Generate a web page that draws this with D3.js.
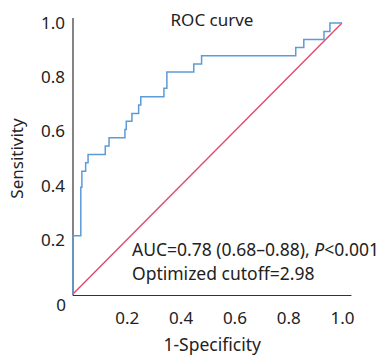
<!DOCTYPE html>
<html>
<head>
<meta charset="utf-8">
<script src="https://cdnjs.cloudflare.com/ajax/libs/d3/7.8.5/d3.min.js"></script>
<style>
  body { margin: 0; background: #fff; }
  svg text { font-family: "Noto Sans", sans-serif; fill: #222; }
</style>
</head>
<body>
<div id="chart"></div>
<script>
// ROC curve points (1-specificity, sensitivity)
const fpr = [0, 0, 0.029, 0.029, 0.033, 0.033, 0.047, 0.047, 0.056, 0.056, 0.120, 0.120, 0.134, 0.134,
  0.193, 0.193, 0.198, 0.198, 0.219, 0.219, 0.244, 0.244, 0.252, 0.252, 0.338, 0.338, 0.349, 0.349,
  0.449, 0.449, 0.478, 0.478, 0.828, 0.828, 0.858, 0.858, 0.933, 0.933, 0.955, 0.955, 1.0];
const tpr = [0, 0.215, 0.215, 0.394, 0.394, 0.453, 0.453, 0.484, 0.484, 0.515, 0.515, 0.546, 0.546, 0.577,
  0.577, 0.607, 0.607, 0.637, 0.637, 0.666, 0.666, 0.697, 0.697, 0.728, 0.728, 0.759, 0.759, 0.819,
  0.819, 0.849, 0.849, 0.879, 0.879, 0.910, 0.910, 0.939, 0.939, 0.969, 0.969, 1.0, 1.0];
const refLine = [0, 1];
const xTicks = [0.2, 0.4, 0.6, 0.8, 1.0];
const yTicks = [0.2, 0.4, 0.6, 0.8, 1.0];
const title = 'ROC curve';
const auc = 'AUC=0.78 (0.68\u20130.88), ';
const cutoff = 'Optimized cutoff=2.98';

const width = 387, height = 355;
const margin = { top: 23, right: 45, bottom: 61, left: 73 };

const svg = d3.select('#chart')
  .append('svg')
  .attr('width', width)
  .attr('height', height);

const x = d3.scaleLinear().domain([0, 1]).range([margin.left, width - margin.right]);
const y = d3.scaleLinear().domain([0, 1]).range([height - margin.bottom, margin.top]);

// axes lines
svg.append('line')
  .attr('x1', x(0)).attr('x2', x(1.035))
  .attr('y1', y(0) + 1.5).attr('y2', y(0) + 1.5)
  .attr('stroke', '#333').attr('stroke-width', 1.2);
svg.append('line')
  .attr('x1', x(0)).attr('x2', x(0))
  .attr('y1', y(1.018)).attr('y2', y(0) + 1.5)
  .attr('stroke', '#333').attr('stroke-width', 1.2);

// tick labels
const xAxis = svg.append('g')
  .attr('transform', `translate(0,${y(0) + 1.5})`)
  .call(d3.axisBottom(x).tickValues(xTicks).tickSize(0).tickPadding(16).tickFormat(d3.format('.1f')));
const yAxis = svg.append('g')
  .attr('transform', `translate(${x(0)},0)`)
  .call(d3.axisLeft(y).tickValues(yTicks).tickSize(0).tickPadding(8).tickFormat(d3.format('.1f')));
[xAxis, yAxis].forEach(g => {
  g.select('.domain').remove();
  g.selectAll('text').style('font-size', '17px').attr('fill', '#222');
});

svg.append('text')
  .attr('x', x(0) - 7).attr('y', y(0) + 17)
  .attr('text-anchor', 'end')
  .style('font-size', '17px')
  .text('0');

// reference diagonal
const line = d3.line().x(d => x(d[0])).y(d => y(d[1]));
svg.append('path')
  .datum(refLine.map(v => [v, v]))
  .attr('fill', 'none')
  .attr('stroke', '#e2446a')
  .attr('stroke-width', 1.3)
  .attr('d', line);

// ROC curve
svg.append('path')
  .datum(fpr.map((v, i) => [v, tpr[i]]))
  .attr('fill', 'none')
  .attr('stroke', '#5b9bd8')
  .attr('stroke-width', 1.5)
  .attr('d', line);

// texts
svg.append('text')
  .attr('x', 212).attr('y', 26)
  .attr('text-anchor', 'middle')
  .style('font-size', '17px')
  .text(title);

const t1 = svg.append('text')
  .attr('x', 132).attr('y', 256)
  .style('font-size', '17.5px');
t1.append('tspan').text(auc);
t1.append('tspan').style('font-style', 'italic').text('P');
t1.append('tspan').text('<0.001');

svg.append('text')
  .attr('x', 132).attr('y', 280)
  .style('font-size', '17.5px')
  .text(cutoff);

svg.append('text')
  .attr('x', (x(0) + x(1.035)) / 2).attr('y', 351)
  .attr('text-anchor', 'middle')
  .style('font-size', '17.5px')
  .text('1-Specificity');

svg.append('text')
  .attr('transform', `translate(23,${(y(0) + y(1)) / 2}) rotate(-90)`)
  .attr('text-anchor', 'middle')
  .style('font-size', '17px')
  .text('Sensitivity');
</script>
</body>
</html>
